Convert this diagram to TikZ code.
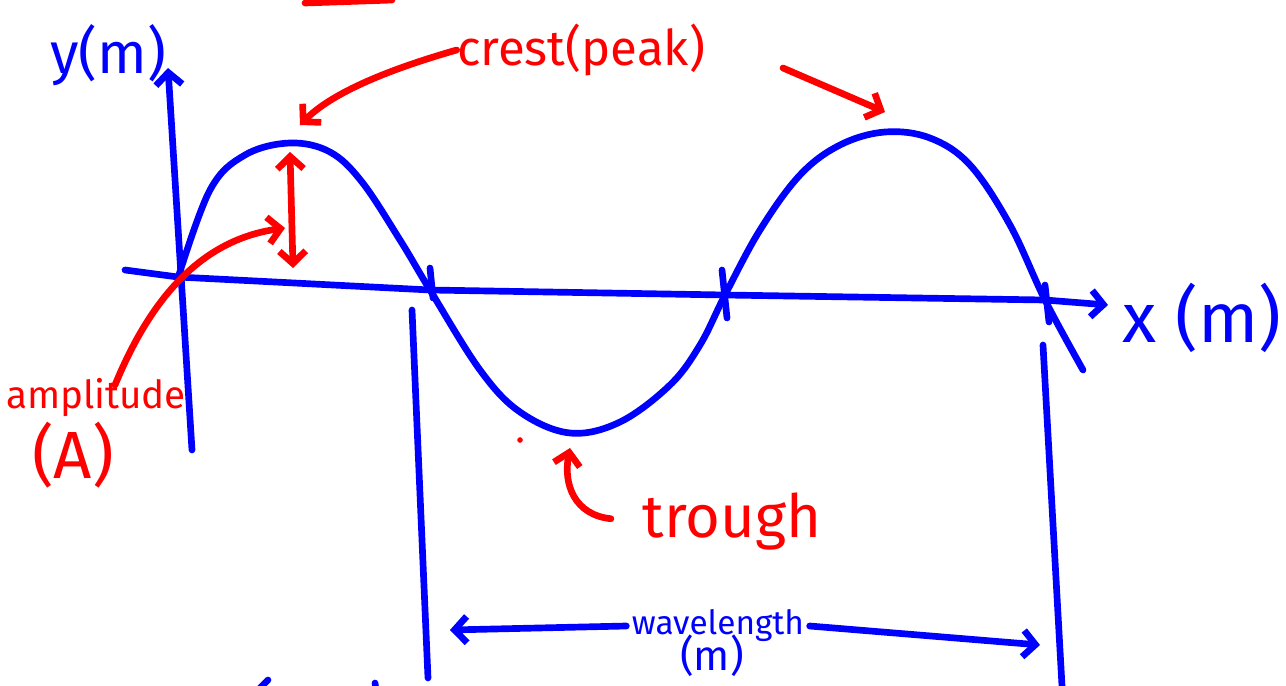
\documentclass[tikz,border=0pt]{standalone}
\usepackage{fontspec}
\setmainfont{Fira Sans}
\usetikzlibrary{arrows.meta}
\definecolor{penblue}{RGB}{0,0,255}
\definecolor{penred}{RGB}{255,0,0}
\newcommand{\fs}[1]{\fontsize{#1}{#1}\selectfont}

\begin{document}
\begin{tikzpicture}[
x=0.02cm, y=-0.02cm,
every node/.style={inner sep=0},
ink/.style={line width=3.8pt, line cap=round, line join=round},
bluepen/.style={ink, draw=penblue},
redpen/.style={ink, draw=penred},
bluetext/.style={text=penblue},
redtext/.style={text=penred},
tip/.style={-{Straight Barb[length=7pt, width=15pt]}},
twotip/.style={{Straight Barb[length=7pt, width=15pt]}-{Straight Barb[length=7pt, width=15pt]}}
]
\useasboundingbox (0,0) rectangle (1286,686);

\node[bluetext, font=\fs{33}] (ylab) at (108,55) {y(m)};
\node[bluetext, font=\fs{40}] (xlab) at (1202,318) {x (m)};
\node[redtext, font=\fs{28}] (crest) at (581,50) {crest(peak)};
\node[redtext, font=\fs{22}] (amp) at (96,398) {amplitude};
\node[redtext, font=\fs{38}] (ampA) at (73,455) {(A)};
\node[redtext, font=\fs{34}] (trough) at (732,522) {trough};
\node[bluetext, font=\fs{19}, inner sep=3pt] (wl) at (718,626) {wavelength};
\node[bluetext, font=\fs{24}] (wlm) at (712,656) {(m)};

\coordinate (O) at (178,277);
\coordinate (ytop) at (168,68);
\coordinate (ybot) at (192,450);
\coordinate (xleft) at (125,270);
\coordinate (xend) at (1108,305);
\coordinate (n1) at (430,290);
\coordinate (n2) at (725,295);
\coordinate (n3) at (1045,300);
\coordinate (c1tip) at (300,125);
\coordinate (c2tip) at (885,112);
\coordinate (crestR) at (783,68);
\coordinate (atop) at (290,152);
\coordinate (abot) at (293,268);
\coordinate (ampS) at (115,385);
\coordinate (ampE) at (285,228);
\coordinate (trE) at (570,448);
\coordinate (wlL) at (450,630);
\coordinate (wlR) at (1040,645);

\draw[bluepen, tip] (ybot) -- (ytop);
\draw[bluepen, tip] (xleft) -- (O) -- (n1) -- (n2) -- (n3) -- (xend);
\draw[bluepen] plot[smooth, tension=0.6] coordinates {(178,278) (210,190) (245,155) (290,143) (330,152) (362,182) (400,240) (430,290) (480,370) (520,412) (570,433) (620,422) (670,385) (700,345) (725,295) (760,230) (800,175) (840,145) (885,132) (930,138) (970,165) (1010,225) (1045,300) (1083,370)};
\draw[bluepen] (430,268) -- (433,298);
\draw[bluepen] (722,270) -- (727,318);
\draw[bluepen] (1045,285) -- (1049,322);
\draw[bluepen] (412,310) -- (428,678);
\draw[bluepen] (1043,345) -- (1062,686);
\draw[bluepen, tip] (wl.west) -- (wlL);
\draw[bluepen, tip] (wl.east) -- (wlR);
\draw[bluepen] (258,690) -- (268,680);
\draw[bluepen] (375,683) -- (376,690);

\draw[redpen] (305,3) -- (392,0);
\draw[redpen, tip] (crest.west) .. controls (380,72) and (330,95) .. (c1tip);
\draw[redpen, tip] (crestR) -- (c2tip);
\draw[redpen, twotip] (atop) -- (abot);
\draw[redpen, tip] (ampS) .. controls (150,300) and (200,240) .. (ampE);
\draw[redpen, tip, shorten <=18pt] (trough.west) .. controls (575,515) and (563,485) .. (trE);
\fill[penred] (520,440) circle (1.6pt);
\end{tikzpicture}
\end{document}
